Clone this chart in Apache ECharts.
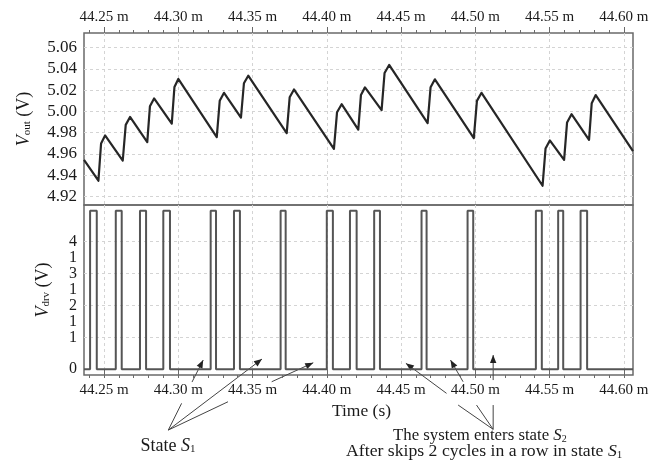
<!DOCTYPE html>
<html><head><meta charset="utf-8">
<script src="https://cdn.jsdelivr.net/npm/echarts@6/dist/echarts.min.js"></script>
<style>html,body{margin:0;padding:0;background:#fff}#c{width:660px;height:470px}</style>
</head><body><div id="c"></div>
<script>
// ---- tick labels ----
const timeTicks = [44.25, 44.30, 44.35, 44.40, 44.45, 44.50, 44.55, 44.60];
const timeMinorTicks = [44.24, 44.25, 44.26, 44.27, 44.28, 44.29, 44.30, 44.31, 44.32, 44.33, 44.34, 44.35, 44.36, 44.37, 44.38, 44.39, 44.40, 44.41, 44.42, 44.43, 44.44, 44.45, 44.46, 44.47, 44.48, 44.49, 44.50, 44.51, 44.52, 44.53, 44.54, 44.55, 44.56, 44.57, 44.58, 44.59, 44.60];
const voutTicks = [4.92, 4.94, 4.96, 4.98, 5.00, 5.02, 5.04, 5.06];
const vdrvTickValues = [0, 1, 1.5, 2, 2.5, 3, 3.5, 4];
const vdrvTickLabels = ['0', '1', '1', '2', '1', '3', '1', '4'];
const vdrvGridValues = [1, 2, 3, 4];

// ---- series values (time in ms) ----
const voutTime = [44.2365, 44.2462, 44.2480, 44.2507, 44.2626, 44.2646, 44.2675, 44.2791, 44.2809, 44.2837, 44.2956, 44.2974, 44.3000,
  44.3259, 44.3279, 44.3308, 44.3422, 44.3442, 44.3471, 44.3730, 44.3750, 44.3779, 44.4048, 44.4069, 44.4100,
  44.4212, 44.4230, 44.4257, 44.4369, 44.4389, 44.4420, 44.4679, 44.4699, 44.4728, 44.4990, 44.5011, 44.5042,
  44.5453, 44.5473, 44.5502, 44.5598, 44.5618, 44.5648, 44.5766, 44.5784, 44.5811, 44.6062];
const voutValue = [4.9544, 4.9348, 4.9698, 4.9774, 4.9538, 4.9873, 4.9947, 4.9711, 5.0047, 5.0121, 4.9885, 5.0229, 5.0304,
  4.9758, 5.0099, 5.0174, 4.9942, 5.0264, 5.0335, 4.9796, 5.0132, 5.0206, 4.9648, 4.9992, 5.0067,
  4.9828, 5.0154, 5.0225, 5.0011, 5.0360, 5.0436, 4.9890, 5.0227, 5.0301, 4.9749, 5.0098, 5.0174,
  4.9301, 4.9650, 4.9727, 4.9544, 4.9896, 4.9973, 4.9733, 5.0077, 5.0153, 4.9626];
const pulseRise = [44.2406, 44.2579, 44.2742, 44.2899, 44.3218, 44.3375, 44.3689, 44.4000, 44.4156, 44.4319, 44.4638, 44.4948, 44.5408, 44.5558, 44.5709];
const pulseFall = [44.2451, 44.2619, 44.2783, 44.2944, 44.3254, 44.3415, 44.3723, 44.4041, 44.4201, 44.4358, 44.4672, 44.4986, 44.5448, 44.5592, 44.5753];
const pulseHigh = 4.97;
const pulseLow = 0;

// ---- annotation arrows (data coords of lower panel) ----
const arrowsS1 = [
  [[[44.29328, -1.906], [44.30223, -1.069]], [[44.30923, -0.401], [44.31677, 0.288]]],
  [[[44.29328, -1.906], [44.35635, 0.32]]],
  [[[44.29328, -1.906], [44.33346, -1.019]], [[44.36288, -0.392], [44.39088, 0.204]]]
];
const arrowsS2 = [
  [[[44.51203, -1.884], [44.48844, -1.122]], [[44.48063, -0.755], [44.45327, 0.185]]],
  [[[44.51203, -1.884], [44.50082, -1.122]], [[44.49178, -0.392], [44.48332, 0.288]]],
  [[[44.51203, -1.884], [44.51203, -1.122]], [[44.51203, -0.339], [44.51203, 0.445]]]
];
const labelS1Pos = [44.29308, -2.408];
const labelS2aPos = [44.50308, -2.085];
const labelS2bPos = [44.50597, -2.589];

const tMin = 44.2365, tMax = 44.6062;
const FONT = 'Liberation Serif';
const TXT = '#1a1a1a';
const FRAME = '#6a6a6a';
const GRIDC = '#d4d4d4';

const voutData = voutTime.map((t, i) => [t, voutValue[i]]);
const vdrvData = [[tMin, pulseLow]];
pulseRise.forEach((r, i) => {
  vdrvData.push([r, pulseLow], [r, pulseHigh], [pulseFall[i], pulseHigh], [pulseFall[i], pulseLow]);
});
vdrvData.push([tMax, pulseLow]);

const chart = echarts.init(document.getElementById('c'), null, {renderer: 'canvas'});

function xMajor(grid, pos, showLabel) {
  return {
    type: 'value', gridIndex: grid, position: pos, min: tMin, max: tMax,
    axisLine: {show: false},
    axisTick: {show: true, customValues: timeTicks, length: 6, lineStyle: {color: FRAME, width: 1}},
    axisLabel: {show: showLabel, customValues: timeTicks, formatter: v => v.toFixed(2) + ' m',
      fontFamily: FONT, fontSize: 15, color: TXT, margin: 8},
    splitLine: {show: true, lineStyle: {type: [3, 3], color: GRIDC, width: 1}}
  };
}
function xMinor(grid, pos) {
  return {
    type: 'value', gridIndex: grid, position: pos, min: tMin, max: tMax,
    axisLine: {show: false},
    axisTick: {show: true, customValues: timeMinorTicks, length: 3, lineStyle: {color: FRAME, width: 1}},
    axisLabel: {show: false}, splitLine: {show: false}
  };
}
const bottomX = xMajor(1, 'bottom', true);
bottomX.name = 'Time (s)';
bottomX.nameLocation = 'middle';
bottomX.nameGap = 27;
bottomX.nameTextStyle = {fontFamily: FONT, fontSize: 17.5, color: TXT, padding: [0, 0, 0, 6]};

const richName = {
  i: {fontFamily: FONT, fontSize: 18, fontStyle: 'italic', color: TXT, verticalAlign: 'bottom'},
  s: {fontFamily: FONT, fontSize: 11, color: TXT, verticalAlign: 'bottom', lineHeight: 9},
  n: {fontFamily: FONT, fontSize: 18, color: TXT, verticalAlign: 'bottom'}
};

chart.setOption({
  animation: false,
  backgroundColor: '#fff',
  grid: [
    {left: 84, top: 33, width: 549, height: 172, show: true, borderColor: FRAME, borderWidth: 1.5, backgroundColor: 'transparent'},
    {left: 84, top: 205, width: 549, height: 170, show: true, borderColor: FRAME, borderWidth: 1.5, backgroundColor: 'transparent'}
  ],
  xAxis: [xMajor(0, 'top', true), xMinor(0, 'top'), bottomX, xMinor(1, 'bottom')],
  yAxis: [
    {type: 'value', gridIndex: 0, min: 4.912, max: 5.0736,
      axisLine: {show: false},
      axisTick: {show: false, customValues: voutTicks},
      axisLabel: {customValues: voutTicks, formatter: v => v.toFixed(2), fontFamily: FONT, fontSize: 17, color: TXT, margin: 7},
      splitLine: {show: true, lineStyle: {type: [3, 3], color: GRIDC, width: 1}},
      name: '{i|V}{s|out}{n| (V)}', nameLocation: 'middle', nameGap: 51, nameRotate: 90,
      nameTextStyle: {rich: richName}
    },
    {type: 'value', gridIndex: 1, min: -0.18, max: 5.15,
      axisLine: {show: false},
      axisTick: {show: false, customValues: vdrvGridValues},
      axisLabel: {customValues: vdrvTickValues,
        formatter: v => { const k = vdrvTickValues.indexOf(v); return k >= 0 ? vdrvTickLabels[k] : ''; },
        fontFamily: FONT, fontSize: 16, color: TXT, margin: 7},
      splitLine: {show: true, lineStyle: {type: [3, 3], color: GRIDC, width: 1}},
      name: '{i|V}{s|drv}{n| (V)}', nameLocation: 'middle', nameGap: 32, nameRotate: 90,
      nameTextStyle: {rich: richName}
    }
  ],
  series: [
    {type: 'line', xAxisIndex: 0, yAxisIndex: 0, data: voutData, symbol: 'none',
      lineStyle: {color: '#262626', width: 2.2, join: 'round'}, z: 5},
    {type: 'line', xAxisIndex: 2, yAxisIndex: 1, data: vdrvData, symbol: 'none',
      lineStyle: {color: '#555', width: 2}, z: 5}
  ]
});

// ---- annotations ----
function px(p) { return chart.convertToPixel({xAxisIndex: 2, yAxisIndex: 1}, p); }
const graphics = [];
const ACOL = '#444';
function addArrow(arrow) {
  arrow.forEach((seg, k) => {
    const a = px(seg[0]), b = px(seg[1]);
    graphics.push({type: 'line', shape: {x1: a[0], y1: a[1], x2: b[0], y2: b[1]},
      style: {stroke: ACOL, lineWidth: 1}, silent: true});
    if (k === arrow.length - 1) {
      const dx = b[0] - a[0], dy = b[1] - a[1], L = Math.hypot(dx, dy);
      const ux = dx / L, uy = dy / L, hl = 8, hw = 3.2;
      const bx = b[0] - ux * hl, by = b[1] - uy * hl;
      graphics.push({type: 'polygon', shape: {points: [[b[0], b[1]], [bx - uy * hw, by + ux * hw], [bx + uy * hw, by - ux * hw]]},
        style: {fill: '#222'}, silent: true});
    }
  });
}
arrowsS1.forEach(addArrow);
arrowsS2.forEach(addArrow);
function richLab(fs) {
  return {
    i: {fontFamily: FONT, fontSize: fs, fontStyle: 'italic', fill: TXT, verticalAlign: 'bottom'},
    s: {fontFamily: FONT, fontSize: Math.round(fs * 0.62), fill: TXT, verticalAlign: 'bottom', lineHeight: 7},
    n: {fontFamily: FONT, fontSize: fs, fill: TXT, verticalAlign: 'bottom'}
  };
}
function addLabel(pos, text, fs) {
  const p = px(pos);
  graphics.push({type: 'text', x: p[0], y: p[1], silent: true,
    style: {text: text, rich: richLab(fs), align: 'center', verticalAlign: 'middle', fill: TXT, fontFamily: FONT, fontSize: fs}});
}
addLabel(labelS1Pos, '{n|State }{i|S}{s|1}', 18);
addLabel(labelS2aPos, '{n|The system enters state }{i|S}{s|2}', 16.8);
addLabel(labelS2bPos, '{n|After skips 2 cycles in a row in state }{i|S}{s|1}', 17.7);
chart.setOption({graphic: graphics});
</script></body></html>
